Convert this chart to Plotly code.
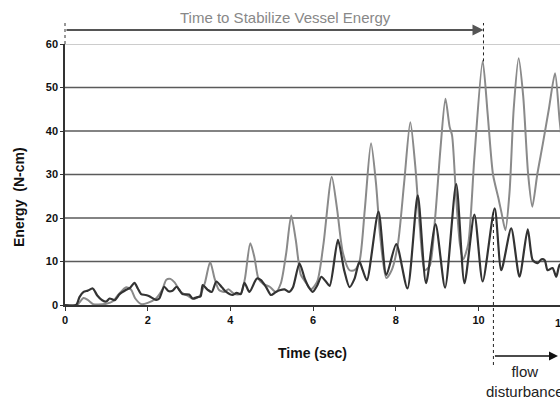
import plotly.graph_objects as go

# ---- data ----
gray_t = [0, 0.3, 0.35, 0.45, 0.55, 0.68, 0.8, 1.0, 1.15, 1.3, 1.48, 1.6, 1.7, 1.85, 2.0, 2.2, 2.35, 2.45, 2.55, 2.65,
          2.8, 2.95, 3.1, 3.25, 3.38, 3.51, 3.62, 3.72, 3.85, 3.95, 4.1, 4.25, 4.35, 4.48, 4.58, 4.68, 4.8, 4.95, 5.1,
          5.22, 5.35, 5.47, 5.58, 5.7, 5.8, 5.95, 6.1, 6.25, 6.45, 6.58, 6.72, 6.88, 7.0, 7.12, 7.25, 7.4, 7.52, 7.62,
          7.77, 7.9, 8.05, 8.2, 8.35, 8.47, 8.58, 8.7, 8.82, 8.95, 9.08, 9.2, 9.3, 9.36, 9.45, 9.55, 9.63, 9.75, 9.9,
          10.1, 10.22, 10.35, 10.48, 10.56, 10.65, 10.75, 10.85, 10.97, 11.08, 11.2, 11.3, 11.42, 11.55, 11.7, 11.85,
          11.96, 12.1]
gray_v = [0, 0, 0.6, 1.6, 1.2, 0.2, 0.1, 0.3, 0.8, 2.5, 4.1, 3.5, 1.5, 0.2, 0.5, 1.5, 3.5, 5.8, 6.0, 5.2,
          3, 2.2, 1.4, 2, 5, 9.9, 6, 3.5, 3, 3.6, 2.5, 2.6, 6, 14.2, 11, 6, 4.8, 4.2, 3,
          5, 12, 20.6, 15, 7, 5.5, 3.6, 5.4, 14, 29.5, 22, 12, 8, 8, 10, 22, 37.2, 28, 16,
          6.2, 8, 14, 28, 42, 32, 18, 8, 9, 20, 36, 47.4, 41, 39, 26, 14, 10.5, 14, 34,
          56.1, 44, 30, 24.6, 21, 17.2, 26, 45, 56.7, 48, 30, 22.6, 30, 36.8, 45, 53.3,
          42.5, 30]

black_t = [0, 0.27, 0.35, 0.45, 0.55, 0.67, 0.78, 0.9, 1.0, 1.08, 1.2, 1.32, 1.48, 1.58, 1.68, 1.76, 1.84, 1.95, 2.04,
           2.2, 2.28, 2.4, 2.5, 2.6, 2.7, 2.77, 2.84, 3.0, 3.09, 3.2, 3.28, 3.33, 3.45, 3.55, 3.66, 3.8, 3.9, 4.05,
           4.15, 4.25, 4.34, 4.46, 4.64, 4.74, 4.87, 4.98, 5.1, 5.19, 5.31, 5.42, 5.51, 5.67, 5.8, 5.9, 5.99, 6.1,
           6.2, 6.3, 6.4, 6.6, 6.75, 6.88, 7.0, 7.12, 7.2, 7.3, 7.58, 7.77, 8.01, 8.28, 8.53, 8.73, 8.96, 9.19, 9.46,
           9.66, 9.9, 10.1, 10.39, 10.55, 10.79, 10.99, 11.19, 11.31, 11.43, 11.52, 11.6, 11.67, 11.79, 11.88, 11.96,
           12.1]
black_v = [0, 0, 1.8, 3, 3.3, 3.8, 2.2, 1.1, 0.8, 1.5, 1.1, 2.5, 3.5, 4, 5.1, 3.8, 2.5, 2.3, 2,
           1.2, 1.5, 4.2, 3.2, 3.3, 4.2, 3.4, 2.5, 2.4, 1.5, 1.8, 2, 4.6, 3.5, 3, 5.4, 4, 3, 2.3,
           2.8, 2.5, 5.1, 3, 6.1, 5.7, 4, 2.3, 3, 3.4, 3.6, 3, 4, 9.6, 6, 4, 3, 4.5,
           6.5, 5.5, 4.4, 15, 8, 4.1, 6, 10, 8, 5.7, 21.5, 6.9, 14, 3.8, 25.2, 5, 18.6, 4, 27.8,
           5, 20.8, 5.4, 22.2, 8, 17.6, 6.5, 17.4, 10.3, 9.6, 10.5, 10.3, 8, 8.5, 6.5, 9.2,
           10]

y_ticks = [0, 10, 20, 30, 40, 50, 60]
x_ticks = [0, 2, 4, 6, 8, 10]
grid_dark = [10, 20, 30, 40, 50]
grid_light = [60]

X_MAX = 11.97
Y_MAX = 60
stab_end = 10.12       # end of "Time to Stabilize Vessel Energy" arrow
stab_peak = 56.0
disturb_start = 10.36  # start of flow disturbance
disturb_peak = 22.0

PLOT_W, PLOT_H = 495, 261   # plot-area size in px (for converting pixel offsets)

def px(t):
    return t / X_MAX

def py(v):
    return v / Y_MAX

FONT = "Liberation Sans, Arial, sans-serif"

fig = go.Figure()
fig.add_trace(go.Scatter(x=gray_t, y=gray_v, mode="lines",
                         line=dict(color="#8a8a8a", width=2, shape="spline", smoothing=0.7),
                         showlegend=False, hoverinfo="skip"))
fig.add_trace(go.Scatter(x=black_t, y=black_v, mode="lines",
                         line=dict(color="#333333", width=2.2, shape="spline", smoothing=0.7),
                         showlegend=False, hoverinfo="skip"))

shapes = []
for g in grid_dark:
    shapes.append(dict(type="line", xref="paper", yref="y", x0=0, x1=1, y0=g, y1=g,
                       line=dict(color="#5a5a5a", width=1.5), layer="below"))
for g in grid_light:
    shapes.append(dict(type="line", xref="paper", yref="y", x0=0, x1=1, y0=g, y1=g,
                       line=dict(color="#9a9a9a", width=1), layer="below"))

top_y = 1 + 21 / PLOT_H          # top of dashed markers (above plot)
arrow_top_y = 1 + 14 / PLOT_H
bottom_dash_y = -60 / PLOT_H
bottom_arrow_y = -51 / PLOT_H

shapes.append(dict(type="line", xref="paper", yref="paper", x0=0, x1=0, y0=1, y1=top_y,
                   line=dict(color="#333", width=1, dash="dot")))
shapes.append(dict(type="line", xref="paper", yref="paper", x0=px(stab_end), x1=px(stab_end),
                   y0=py(stab_peak), y1=top_y, line=dict(color="#222", width=1, dash="dot")))
shapes.append(dict(type="line", xref="paper", yref="paper", x0=px(disturb_start), x1=px(disturb_start),
                   y0=bottom_dash_y, y1=py(disturb_peak), line=dict(color="#222", width=1, dash="dot")))

annotations = [
    # top arrow
    dict(x=px(stab_end), y=arrow_top_y, xref="paper", yref="paper", axref="pixel", ayref="pixel",
         ax=-px(stab_end) * PLOT_W, ay=0,
         showarrow=True, arrowhead=2, arrowsize=1.1, arrowwidth=2, arrowcolor="#555", text=""),
    dict(x=(285 - 65) / PLOT_W, y=1 + 288 / PLOT_H - 1 + 0, xref="paper", yref="paper",
         text="Time to Stabilize Vessel Energy",
         showarrow=False, font=dict(family=FONT, size=15, color="#888888"), xanchor="center", yanchor="middle"),
    # bottom arrow
    dict(x=(558 - 65) / PLOT_W, y=bottom_arrow_y, xref="paper", yref="paper", axref="pixel", ayref="pixel",
         ax=-((558 - 65) / PLOT_W - px(disturb_start)) * PLOT_W, ay=0,
         showarrow=True, arrowhead=2, arrowsize=1.2, arrowwidth=1.5, arrowcolor="#111", text=""),
    dict(x=(525 - 65) / PLOT_W, y=-76 / PLOT_H, xref="paper", yref="paper", text="flow<br>disturbance",
         showarrow=False, font=dict(family=FONT, size=15, color="#222"), xanchor="center", yanchor="middle"),
    # partially visible tick label
    dict(x=px(12), y=-18 / PLOT_H, xref="paper", yref="paper", text="<b>12</b>", showarrow=False,
         font=dict(family=FONT, size=11, color="#111"), xanchor="center", yanchor="middle"),
    # axis titles
    dict(x=(312 - 65) / PLOT_W, y=-48 / PLOT_H, xref="paper", yref="paper", text="<b>Time (sec)</b>",
         showarrow=False, font=dict(family=FONT, size=14, color="#111"), xanchor="center", yanchor="middle"),
    dict(x=(19 - 65) / PLOT_W, y=108 / PLOT_H, xref="paper", yref="paper", text="<b>Energy  (N-cm)</b>",
         textangle=-90, showarrow=False, font=dict(family=FONT, size=14, color="#111"),
         xanchor="center", yanchor="middle"),
]

fig.update_layout(
    width=560, height=399,
    margin=dict(l=65, r=0, t=44, b=94, pad=0),
    paper_bgcolor="white", plot_bgcolor="white",
    shapes=shapes, annotations=annotations,
    showlegend=False,
    xaxis=dict(range=[0, X_MAX], tickvals=x_ticks, ticktext=[f"<b>{v}</b>" for v in x_ticks],
               showgrid=False, zeroline=False, showline=True, linecolor="#333", linewidth=1.5,
               ticks="outside", ticklen=4, tickcolor="#333", tickwidth=1,
               tickfont=dict(family=FONT, size=11, color="#111")),
    yaxis=dict(range=[0, Y_MAX], tickvals=y_ticks, ticktext=[f"<b>{v}</b>" for v in y_ticks],
               showgrid=False, zeroline=False, showline=True, linecolor="#333", linewidth=1.5,
               ticks="outside", ticklen=3, tickcolor="#333", tickwidth=1,
               tickfont=dict(family=FONT, size=11, color="#111")),
)

fig.write_html("out.html")
